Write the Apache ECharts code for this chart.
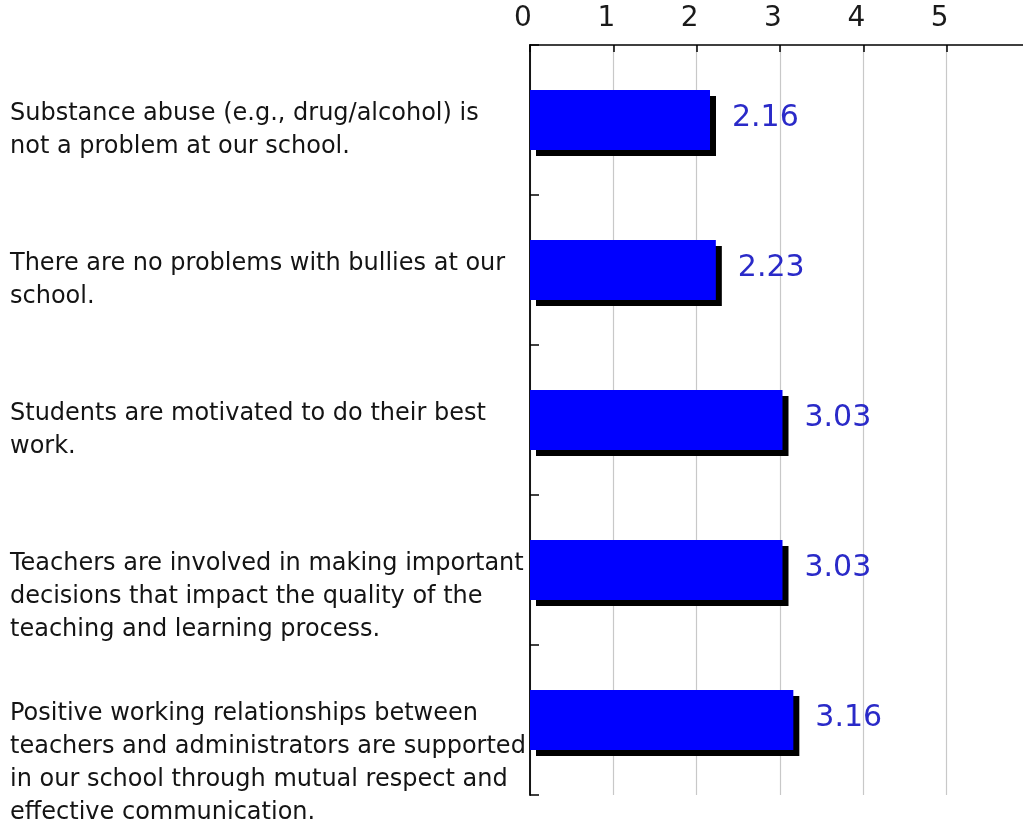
<!DOCTYPE html>
<html>
<head>
<meta charset="utf-8">
<script src="https://cdn.jsdelivr.net/npm/echarts@6/dist/echarts.min.js"></script>
<style>
  html, body { margin: 0; padding: 0; background: #ffffff; }
  #chart { width: 1023px; height: 827px; }
</style>
</head>
<body>
<div id="chart"></div>
<script>
const categories = [
  "Substance abuse (e.g., drug/alcohol) is\nnot a problem at our school.",
  "There are no problems with bullies at our\nschool.",
  "Students are motivated to do their best\nwork.",
  "Teachers are involved in making important\ndecisions that impact the quality of the\nteaching and learning process.",
  "Positive working relationships between\nteachers and administrators are supported\nin our school through mutual respect and\neffective communication."
];
const values = [2.16, 2.23, 3.03, 3.03, 3.16];
const xTicks = [0, 1, 2, 3, 4, 5, 6];

const FONT = "DejaVu Sans";
const chart = echarts.init(document.getElementById('chart'), null, { renderer: 'canvas' });

chart.setOption({
  backgroundColor: '#ffffff',
  animation: false,
  grid: [
    { left: 530, top: 45, bottom: 32, width: 500, containLabel: false, outerBoundsMode: 'none' },
    { left: 530, top: 22, bottom: 55, width: 500, containLabel: false, outerBoundsMode: 'none' }
  ],
  xAxis: [
    {
      gridIndex: 0,
      type: 'value',
      position: 'top',
      min: xTicks[0],
      max: xTicks[xTicks.length - 1],
      interval: 1,
      axisLine: { show: true, lineStyle: { color: '#000', width: 1.5 } },
      axisTick: { show: true, inside: true, length: 7, lineStyle: { color: '#000', width: 1.5 } },
      axisLabel: {
        show: true, margin: 12, color: '#1a1a1a', fontFamily: FONT, fontSize: 28,
        padding: [0, 14, 0, 0],
        formatter: function (v) { return v <= 5 ? String(v) : ''; }
      },
      splitLine: { show: true, lineStyle: { color: '#c8c8c8', width: 1.2 } }
    },
    {
      gridIndex: 1, type: 'value', show: false, min: 0, max: 6
    }
  ],
  yAxis: [
    {
      gridIndex: 0,
      type: 'category',
      inverse: true,
      data: categories,
      axisLine: { show: true, lineStyle: { color: '#000', width: 1.8 } },
      axisTick: { show: true, inside: true, length: 9, lineStyle: { color: '#000', width: 1.5 } },
      axisLabel: { show: false },
      splitLine: { show: false }
    },
    {
      gridIndex: 1,
      type: 'category',
      inverse: true,
      data: categories,
      axisLine: { show: false },
      axisTick: { show: false },
      axisLabel: {
        show: true,
        align: 'left',
        verticalAlign: 'top',
        margin: 520,
        color: '#141414',
        fontFamily: FONT,
        fontSize: 24,
        lineHeight: 33
      },
      splitLine: { show: false }
    }
  ],
  series: [
    {
      type: 'bar',
      xAxisIndex: 0,
      yAxisIndex: 0,
      data: values,
      barWidth: 60,
      itemStyle: {
        color: '#0000ff',
        borderWidth: 0,
        shadowColor: '#000000',
        shadowBlur: 0,
        shadowOffsetX: 6,
        shadowOffsetY: 6
      },
      label: {
        show: true,
        position: 'right',
        distance: 22,
        offset: [0, -2],
        color: '#2a2ac8',
        fontFamily: FONT,
        fontSize: 30,
        formatter: function (p) { return p.value.toFixed(2); }
      }
    }
  ]
});
</script>
</body>
</html>
